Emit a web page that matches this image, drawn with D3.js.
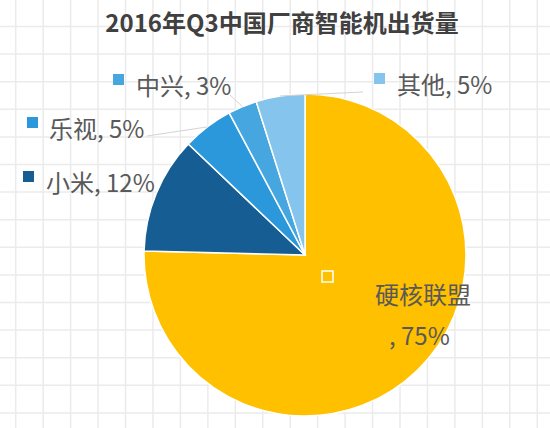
<!DOCTYPE html>
<html>
<head>
<meta charset="utf-8">
<script src="https://cdn.jsdelivr.net/npm/d3@7"></script>
<style>
  html, body { margin: 0; padding: 0; background: #fff; }
  svg { display: block; }
  text { font-family: "Noto Sans CJK SC", "Noto Sans", sans-serif; }
</style>
</head>
<body>
<div id="chart"></div>
<script>
// shares, labels as printed on the chart
var vendors = ["硬核联盟", "小米", "乐视", "中兴", "其他"];
var shares = [75.4, 11.7, 5.1, 2.9, 4.9];
var shareLabels = ["75%", "12%", "5%", "3%", "5%"];
var chartTitle = "2016年Q3中国厂商智能机出货量";

var colors = ["#ffc000", "#165d94", "#2b98db", "#46a6e0", "#85c4ec"];

var width = 550, height = 428;
var cx = 305, cy = 255, radius = 161;

// label block placement: x/y = top-left of the legend key, lx/ly = leader end
var labelLayout = [
  {x: 322, y: 271, tx: 375, ty: 304, lines: true},
  {x: 23, y: 171, tx: 46, ty: 192},
  {x: 27, y: 117, tx: 49, ty: 138, lx: 147, ly: 136},
  {x: 113, y: 74, tx: 136, ty: 95, lx: 230, ly: 95},
  {x: 374, y: 73, tx: 397, ty: 94, lx: 363, ly: 92}
];

var svg = d3.select("#chart").append("svg")
  .attr("width", width)
  .attr("height", height);

// background grid
var grid = svg.append("g").attr("class", "grid")
  .attr("stroke", "#ebebeb")
  .attr("stroke-width", 1.5);

grid.selectAll("line.v")
  .data(d3.range(15.7, width, 27.45))
  .enter().append("line")
  .attr("class", "v")
  .attr("x1", function(d) { return d; })
  .attr("x2", function(d) { return d; })
  .attr("y1", 0)
  .attr("y2", height);

grid.selectAll("line.h")
  .data(d3.range(109.3 - 27.6 * 4, height, 27.6))
  .enter().append("line")
  .attr("class", "h")
  .attr("y1", function(d) { return d; })
  .attr("y2", function(d) { return d; })
  .attr("x1", 0)
  .attr("x2", width);

svg.append("text")
  .attr("x", 282)
  .attr("y", 32)
  .attr("text-anchor", "middle")
  .attr("font-size", 24)
  .attr("font-weight", "bold")
  .attr("fill", "#404040")
  .text(chartTitle);

var pie = d3.pie().sort(null).value(function(d) { return d; });
var arcs = pie(shares);

var arc = d3.arc().innerRadius(0).outerRadius(radius);
var rim = d3.arc().innerRadius(radius).outerRadius(radius);

var g = svg.append("g")
  .attr("transform", "translate(" + cx + "," + cy + ")");

g.selectAll("path")
  .data(arcs)
  .enter().append("path")
  .attr("d", arc)
  .attr("fill", function(d, i) { return colors[i]; })
  .attr("stroke", "#fff")
  .attr("stroke-width", 1.5);

// leader lines from the slice rim to the label
arcs.forEach(function(d, i) {
  var l = labelLayout[i];
  if (l.lx === undefined) return;
  var p = rim.centroid(d);
  svg.append("line")
    .attr("x1", cx + p[0])
    .attr("y1", cy + p[1])
    .attr("x2", l.lx)
    .attr("y2", l.ly)
    .attr("stroke", "#d4d4d4")
    .attr("stroke-width", 1);
});

var labels = svg.append("g").attr("class", "labels");

arcs.forEach(function(d, i) {
  var l = labelLayout[i];
  labels.append("rect")
    .attr("x", l.x)
    .attr("y", l.y)
    .attr("width", 11)
    .attr("height", 11)
    .attr("fill", colors[i])
    .attr("stroke", i === 0 ? "#fff" : "none")
    .attr("stroke-width", 1.5);

  var t = labels.append("text")
    .attr("font-size", 24)
    .attr("fill", "#595959");
  if (l.lines) {
    t.append("tspan").attr("x", l.tx).attr("y", l.ty).text(vendors[i]);
    t.append("tspan").attr("x", l.tx + 14).attr("y", l.ty + 41).text(", " + shareLabels[i]);
  } else {
    t.attr("x", l.tx).attr("y", l.ty).text(vendors[i] + ", " + shareLabels[i]);
  }
});
</script>
</body>
</html>
